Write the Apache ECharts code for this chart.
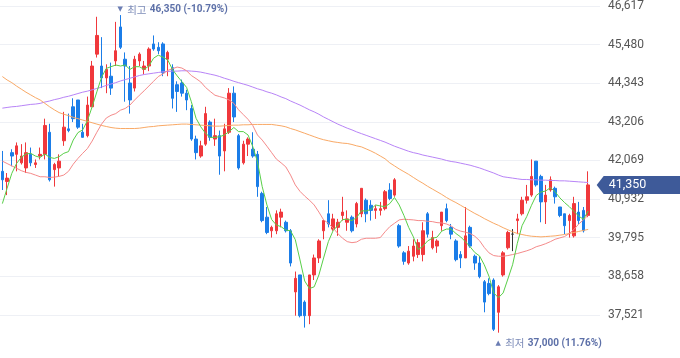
<!DOCTYPE html>
<html><head><meta charset="utf-8">
<script src="https://cdn.jsdelivr.net/npm/echarts@6/dist/echarts.min.js"></script>
<style>html,body{margin:0;padding:0;background:#fff}#c{width:680px;height:358px}</style>
</head><body><div id="c"></div>
<script>
const opens = [41750,41450,42300,42250,42000,41850,42250,41950,42200,42250,
42900,41800,41850,42650,43000,43650,43850,42900,42800,43650,
45200,44850,44500,44550,45000,46000,45050,44350,44200,45000,
44750,44850,45500,45400,45500,45050,44800,44300,44350,44050,
43600,42700,42200,42550,43200,42700,42800,42350,42900,44050,
42800,42000,42550,42400,42250,41100,40400,40000,40000,40400,
40250,40000,38200,38700,37900,37500,38700,39200,40000,40500,
40050,40100,40450,40250,40400,40200,40500,40900,40750,40600,
40600,40650,41200,41050,40150,39350,39050,39250,39300,39300,
40500,39500,39550,40150,40650,40100,39700,39300,39200,40100,
39250,39050,38500,38450,38550,37600,38700,39500,39900,40300,
40500,40900,41050,42050,41600,40850,41200,41250,40700,40500,
40300,39850,40550,40600,40450];
const closes = [41500,41550,42200,42500,42200,42300,42000,42000,42250,43100,
41500,41950,42050,43050,42950,43300,43050,42750,43700,44850,
45750,44500,44750,44200,45300,45400,44850,43850,45050,45200,
44850,45350,45350,45300,44650,45250,43900,44100,44050,43850,
42700,42300,42500,43450,42750,42800,42200,43000,44050,43350,
41850,42550,42700,42200,41300,40300,39950,40100,40500,40550,
40000,39050,38600,37500,37500,38700,39200,39700,40300,40200,
40350,40250,40550,40350,40000,40800,41250,40500,40600,40650,
40650,41150,40950,41500,39550,39100,39400,39550,39650,40000,
39900,39800,39700,40550,40300,39900,39150,39200,39850,39550,
39050,38650,37900,38150,37100,38350,39350,39950,39900,40350,
40900,41000,41600,41350,40850,41050,41500,41000,40450,40150,
40450,40800,40300,40000,41350];
const highs = [42350,41700,42400,42600,42550,42600,42450,42100,42450,43300,
43150,42000,42250,43500,43450,43900,43850,43150,43950,45000,
46300,45700,44900,44950,46150,46350,45250,44850,45150,45250,
45000,45400,45750,45550,45550,45300,44900,44400,44450,44150,
43700,42800,42650,43650,43250,43300,42950,43150,44200,44250,
42850,42650,42750,42900,42350,41150,40700,40150,40600,40650,
40300,40050,38800,38700,37950,38700,39300,39750,40300,40900,
40500,40350,41000,40600,40450,40850,41250,40950,40900,40750,
40850,41200,41400,41550,40200,39400,39550,39750,39750,40250,
40550,40000,39750,40550,40800,40200,39750,39400,40700,40150,
39300,39250,38550,38600,38600,38400,39400,40000,40050,40500,
41000,41350,42100,42050,41650,41350,41600,41300,40700,40500,
40500,41000,40850,40700,41750];
const lows = [41200,41050,41900,41750,41950,41700,41900,41850,42100,42100,
41450,41300,41600,42500,42900,43200,43000,42750,42750,43650,
45100,44200,44050,44000,44850,45350,43800,43450,44100,44850,
44600,44700,45300,45200,44550,44550,43600,43500,43950,43550,
42650,42100,42150,42500,42650,42500,41650,41750,42850,43200,
41800,41950,42200,42150,41000,40250,39900,39800,39900,40100,
39950,38950,37500,37450,37150,37250,38550,39050,39750,40100,
40000,39850,40300,40000,39950,40100,40400,40250,40300,40350,
40450,40600,40900,41000,39500,39000,39000,39100,39200,39100,
39800,39450,39350,40000,40250,39750,39100,38900,39200,39500,
38850,38600,37600,38100,37050,37000,38650,39450,39400,39900,
40450,40800,41000,41300,40250,40200,41150,40800,40400,39900,
39800,39800,40200,39950,40400];
const ma5 = [40800,41250,41690,41980,42160,42260,42280,42200,42160,42260,
42160,42130,42180,42280,42330,42670,42890,42970,43240,43650,
44090,44520,44780,44830,44880,44850,44880,44750,44830,44830,
44750,44850,45080,45170,45110,45030,44750,44560,44390,44220,
43800,43310,43060,42870,42750,42750,42770,42820,42920,43040,
42920,42920,42820,42480,42030,41300,40760,40330,40170,40120,
40020,40000,39740,39140,38520,38300,38350,38700,39200,39680,
40000,40160,40330,40340,40300,40390,40590,40580,40630,40760,
40730,40710,40800,40980,40760,40450,40100,39820,39450,39540,
39700,39780,39810,39990,40050,40050,39920,39820,39680,39530,
39360,39260,39000,38660,38170,38030,38170,38580,39000,39630,
40150,40420,40750,41040,41140,41170,41270,41150,40970,40830,
40710,40570,40430,40340,40580];
const ma20 = [42050,41980,41910,41840,41770,41720,41690,41640,41590,41590,
41570,41580,41600,41640,41750,41960,42130,42280,42420,42640,
42900,43140,43320,43400,43450,43550,43600,43700,43850,43990,
44120,44260,44400,44540,44620,44720,44770,44820,44790,44710,
44570,44480,44380,44220,44100,43990,43950,43910,43850,43750,
43560,43420,43280,43100,42820,42670,42490,42300,42110,42000,
41880,41640,41350,41160,41020,40900,40760,40550,40320,40220,
40080,39920,39780,39680,39650,39670,39750,39780,39780,39780,
39800,39970,40120,40220,40320,40340,40330,40320,40300,40300,
40280,40270,40240,40230,40200,40140,40040,39990,39960,39920,
39840,39710,39510,39350,39270,39250,39250,39270,39300,39330,
39370,39410,39460,39530,39570,39620,39680,39750,39790,39830,
39920,40040,40200,40320,40460];
const ma60 = [44540,44440,44360,44260,44170,44080,44000,43920,43850,43750,
43650,43560,43480,43430,43390,43340,43300,43260,43220,43180,
43140,43100,43070,43040,43020,43010,43010,43010,43010,43020,
43040,43060,43070,43090,43100,43110,43120,43130,43140,43140,
43130,43120,43110,43100,43090,43080,43080,43090,43100,43110,
43110,43120,43120,43130,43130,43130,43130,43130,43110,43090,
43060,43010,42970,42920,42870,42820,42770,42720,42680,42650,
42620,42600,42580,42570,42540,42500,42470,42410,42350,42280,
42200,42120,42000,41910,41820,41740,41660,41570,41480,41400,
41310,41230,41150,41070,40980,40900,40830,40750,40670,40590,
40510,40440,40360,40290,40220,40160,40090,40030,39970,39920,
39890,39860,39840,39830,39820,39830,39840,39850,39870,39890,
39920,39950,39980,40010,40040];
const ma120 = [43610,43630,43650,43660,43680,43700,43720,43730,43750,43790,
43820,43860,43890,43930,43960,44000,44040,44080,44110,44150,
44190,44230,44280,44320,44360,44410,44450,44490,44530,44570,
44600,44620,44640,44660,44680,44690,44700,44700,44710,44710,
44700,44690,44670,44640,44610,44580,44540,44490,44450,44400,
44360,44320,44280,44230,44180,44140,44090,44050,44000,43940,
43890,43820,43760,43700,43630,43560,43500,43430,43350,43280,
43210,43140,43080,43020,42970,42910,42860,42810,42760,42710,
42660,42610,42550,42490,42440,42390,42340,42300,42270,42230,
42200,42170,42140,42110,42070,42040,42020,41990,41960,41930,
41890,41850,41800,41750,41700,41640,41590,41570,41550,41530,
41510,41510,41500,41500,41490,41490,41480,41480,41470,41470,
41460,41450,41440,41430,41420];
const yTickLabels = [37521,38658,39795,40932,42069,43206,44343,45480,46617];
const categories = opens.map((_, i) => 'D' + (i + 1)).concat(['pad1', 'pad2']);

const yStep = yTickLabels[1] - yTickLabels[0];
const yMax = yTickLabels[yTickLabels.length - 1];
const yMin = yTickLabels[0] - yStep;

const UP = '#f0383c', DOWN = '#1b7de8', DOJI = '#333333';
const candleData = opens.map((o, i) => {
  const v = [o, closes[i], lows[i], highs[i]];
  if (o === closes[i]) {
    return { value: v, itemStyle: { color: DOJI, color0: DOJI, borderColor: DOJI, borderColor0: DOJI, borderColorDoji: DOJI } };
  }
  return v;
});

const hiVal = Math.max(...highs), hiIdx = highs.indexOf(hiVal);
const loVal = Math.min(...lows), loIdx = lows.indexOf(loVal);
const last = closes[closes.length - 1];
const fmt = v => v.toLocaleString('en-US');
const pctHi = ((last - hiVal) / hiVal * 100).toFixed(2);
const pctLo = ((last - loVal) / loVal * 100).toFixed(2);

const richStyle = {
  t: { fontSize: 7, color: '#6b7db3', fontFamily: 'DejaVu Sans', padding: [0, 1, 0, 0] },
  k: { fontSize: 10.5, color: '#7d8cb8', fontFamily: 'Noto Sans CJK KR' },
  v: { fontSize: 10, color: '#5d70a8', fontWeight: 'bold', fontFamily: 'Roboto' }
};

const chart = echarts.init(document.getElementById('c'), null, { renderer: 'canvas' });
const lineS = (name, data, color, z) => ({
  name, type: 'line', data, symbol: 'none', silent: true, z,
  lineStyle: { color, width: 1 }, emphasis: { disabled: true }
});

chart.setOption({
  animation: false,
  backgroundColor: '#ffffff',
  grid: { left: 0, top: 6, width: 600, height: 347.6 },
  xAxis: {
    type: 'category', data: categories, boundaryGap: true,
    axisLine: { show: false }, axisTick: { show: false }, axisLabel: { show: false }, splitLine: { show: false }
  },
  yAxis: {
    type: 'value', position: 'right', min: yMin, max: yMax, interval: yStep,
    axisLine: { show: false }, axisTick: { show: false },
    splitLine: { show: true, showMinLine: false, lineStyle: { color: '#eef0f5', width: 1 } },
    axisLabel: { showMinLabel: false, margin: 8, color: '#555', fontSize: 12, fontFamily: 'Roboto', formatter: v => fmt(v) }
  },
  series: [
    {
      name: 'price', type: 'candlestick', data: candleData, barWidth: 3, z: 2,
      itemStyle: { color: UP, color0: DOWN, borderColor: UP, borderColor0: DOWN, borderColorDoji: DOJI, borderWidth: 1 },
      markPoint: {
        symbol: 'circle', symbolSize: 1, silent: true, animation: false,
        itemStyle: { color: 'rgba(0,0,0,0)' },
        data: [
          {
            coord: [categories[hiIdx], hiVal],
            label: { show: true, position: [-2.5, -5], align: 'left', verticalAlign: 'middle',
              formatter: '{t|▼} {k|최고} {v|' + fmt(hiVal) + ' (' + pctHi + '%)}', rich: richStyle }
          },
          {
            coord: [categories[loIdx], loVal],
            label: { show: true, position: [-2.5, 11], align: 'left', verticalAlign: 'middle',
              formatter: '{t|▲} {k|최저} {v|' + fmt(loVal) + ' (' + pctLo + '%)}', rich: richStyle }
          },
          {
            coord: [categories[closes.length - 1], last],
            symbol: 'path://M0,9L7,0L90,0L90,18L7,18Z', symbolSize: [90, 18], symbolKeepAspect: false,
            symbolOffset: [53.5, 0],
            itemStyle: { color: '#3e5a99' },
            label: { show: true, position: [12, 9], align: 'left', verticalAlign: 'middle',
              formatter: fmt(last), color: '#ffffff', fontSize: 12.5, fontFamily: 'Roboto' }
          }
        ]
      }
    },
    lineS('MA120', ma120, '#b884f7', 3),
    lineS('MA60', ma60, '#f9a966', 4),
    lineS('MA20', ma20, '#f58a8a', 5),
    lineS('MA5', ma5, '#58cf48', 6)
  ]
});
</script>
</body></html>
